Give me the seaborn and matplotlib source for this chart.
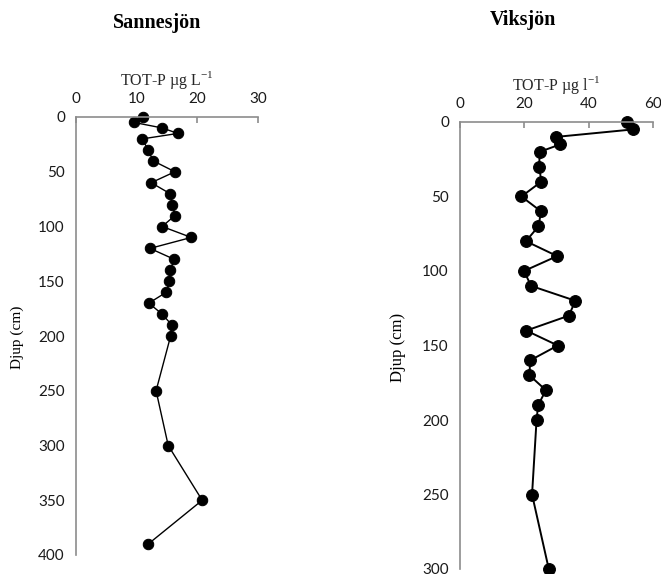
import numpy as np
import pandas as pd
import matplotlib
matplotlib.use("Agg")
import matplotlib.pyplot as plt
import seaborn as sns

# Sannesjön profile (TOT-P µg/L vs depth cm)
sannes_depth = [0, 5, 10, 15, 20, 30, 40, 50, 60, 70, 80, 90, 100, 110, 120,
                130, 140, 150, 160, 170, 180, 190, 200, 250, 300, 350, 390]
sannes_totp = [11.1, 9.6, 14.2, 16.8, 10.9, 11.9, 12.7, 16.3, 12.4, 15.5, 15.9,
               16.3, 14.2, 19.0, 12.2, 16.2, 15.5, 15.4, 14.9, 12.0, 14.2, 15.8,
               15.6, 13.2, 15.2, 20.8, 11.9]

# Viksjön profile
viks_depth = [0, 5, 10, 15, 20, 30, 40, 50, 60, 70, 80, 90, 100, 110, 120,
              130, 140, 150, 160, 170, 180, 190, 200, 250, 300]
viks_totp = [51.9, 53.7, 29.9, 31.2, 24.8, 24.6, 25.3, 19.1, 25.2, 24.4, 20.5,
             30.2, 19.9, 22.1, 35.9, 33.8, 20.6, 30.4, 21.8, 21.6, 26.7, 24.3,
             23.8, 22.4, 27.6]

sns.set_style("white")
plt.rcParams['mathtext.fontset'] = 'custom'
plt.rcParams['mathtext.rm'] = 'Liberation Serif'
plt.rcParams['text.color'] = 'black'

W, H = 661, 574
fig = plt.figure(figsize=(W / 100, H / 100), dpi=100)

serif = 'Liberation Serif'
tickfont = 'Lato'
grey = '#8c8c8c'


def make_panel(rect, depth, totp, xmax, xticks, ymax, yticks, title, title_xy,
               xlabel, ms, lw):
    ax = fig.add_axes(rect)
    df = pd.DataFrame({'depth': depth, 'totp': totp})
    sns.lineplot(data=df, x='totp', y='depth', sort=False, estimator=None,
                 color='black', linewidth=lw, marker='o', markersize=ms,
                 markeredgecolor='black', ax=ax)
    ax.set_xlim(0, xmax)
    ax.set_ylim(ymax, 0)
    ax.set_xticks(xticks)
    ax.set_yticks(yticks)
    ax.xaxis.tick_top()
    ax.xaxis.set_label_position('top')
    for s in ['right', 'bottom']:
        ax.spines[s].set_visible(False)
    for s in ['left', 'top']:
        ax.spines[s].set_color(grey)
        ax.spines[s].set_linewidth(1.2)
    ax.tick_params(axis='both', length=4, width=1.2, color=grey,
                   labelsize=11, labelcolor='#1a1a1a')
    ax.tick_params(axis='y', direction='out', pad=4)
    ax.tick_params(axis='x', direction='in', pad=8)
    for lab in ax.get_xticklabels() + ax.get_yticklabels():
        lab.set_fontfamily(tickfont)
    ax.set_xlabel(xlabel, fontfamily=serif, fontsize=11.5, labelpad=5)
    ax.set_ylabel('')
    fig.text(title_xy[0] / W, 1 - title_xy[1] / H, title, fontfamily=serif,
             fontsize=14.5, fontweight='bold', ha='center', va='center')
    return ax


ax1 = make_panel([76 / W, 1 - 555 / H, (258 - 76) / W, (555 - 117) / H],
                 sannes_depth, sannes_totp, 30, [0, 10, 20, 30], 400,
                 [0, 50, 100, 150, 200, 250, 300, 350, 400],
                 'Sannesjön', (157, 23), r'TOT-P µg L$^{-1}$', 7.5, 1.0)
fig.text(17 / W, 1 - 337 / H, 'Djup (cm)', fontfamily=serif, fontsize=11,
         rotation=90, ha='center', va='center')

ax2 = make_panel([460 / W, 1 - 569 / H, (653 - 460) / W, (569 - 122) / H],
                 viks_depth, viks_totp, 60, [0, 20, 40, 60], 300,
                 [0, 50, 100, 150, 200, 250, 300],
                 'Viksjön', (523, 20), r'TOT-P µg l$^{-1}$', 8.5, 1.4)
fig.text(398 / W, 1 - 347 / H, 'Djup (cm)', fontfamily=serif, fontsize=12,
         rotation=90, ha='center', va='center')

for ax in (ax1, ax2):
    for line in ax.lines:
        line.set_clip_on(False)

fig.savefig('out.png', dpi=100)
